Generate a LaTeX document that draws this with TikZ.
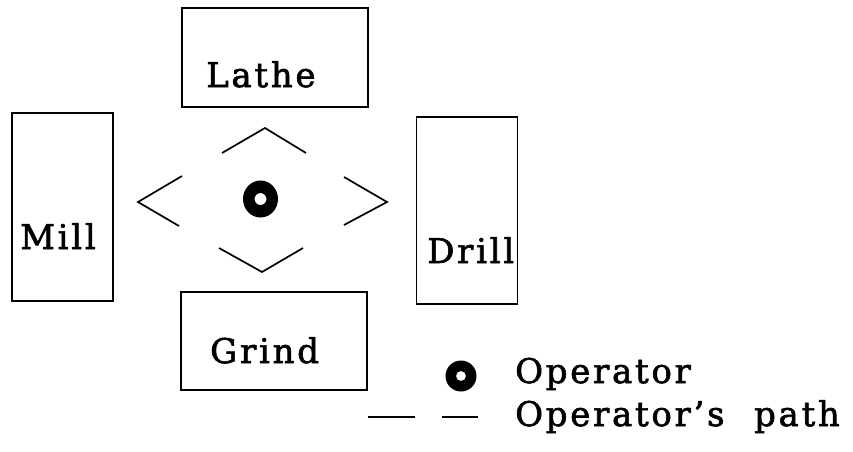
\documentclass[tikz,border=0pt]{standalone}
\usepackage{fontspec}
\newfontfamily\labfont[LetterSpace=8,FakeBold=1.8]{DejaVu Serif}
\begin{document}
\begin{tikzpicture}[x=1pt,y=-1pt,
  machine/.style={draw,line width=1.8pt,inner sep=0pt,minimum width=#1},
  lab/.style={anchor=base west,inner sep=0pt,font=\labfont\fontsize{34}{34}\selectfont},
  pathline/.style={line width=1.7pt,line join=miter},
  ring/.style={fill=black,even odd rule}]
\useasboundingbox (0,0) rectangle (853,451);

% machines
\node[machine=186pt,minimum height=99pt] (lathe) at (275,57.5) {};
\node[machine=101pt,minimum height=188pt] (mill) at (62.5,207) {};
\node[machine=101pt,minimum height=187pt] (drill) at (467,210.5) {};
\node[machine=186pt,minimum height=98pt] (grind) at (274,341) {};

\node[lab] (lathelab) at (206,87) {Lathe};
\node[lab] (milllab) at (20,249) {Mill};
\node[lab] (drilllab) at (427,263) {Drill};
\node[lab] (grindlab) at (210,363) {Grind};

% operator and the path around him
\coordinate (op) at (260.5,199);
\fill[ring] (op) circle[x radius=17.5pt,y radius=18.5pt] (op) circle[radius=6pt];
\draw[pathline] (222,153) -- (265,128) -- (306,153);
\draw[pathline] (182,176) -- (138,202) -- (179,226);
\draw[pathline] (344,177) -- (387,202) -- (344,225);
\draw[pathline] (219,248) -- (262,272) -- (303,248);

% legend
\coordinate (keyop) at (461,376);
\fill[ring] (keyop) circle[radius=15.5pt] (keyop) circle[radius=5pt];
\node[lab] (keyoplab) at (515,383) {Operator};
\coordinate (d1a) at (368,417);
\coordinate (d1b) at (415,417);
\coordinate (d2a) at (442,417);
\coordinate (d2b) at (478,417);
\draw[pathline] (d1a) -- (d1b);
\draw[pathline] (d2a) -- (d2b);
\node[lab] (keypathlab) at (515,426) {Operator’s\hspace{16pt} path};
\end{tikzpicture}
\end{document}
